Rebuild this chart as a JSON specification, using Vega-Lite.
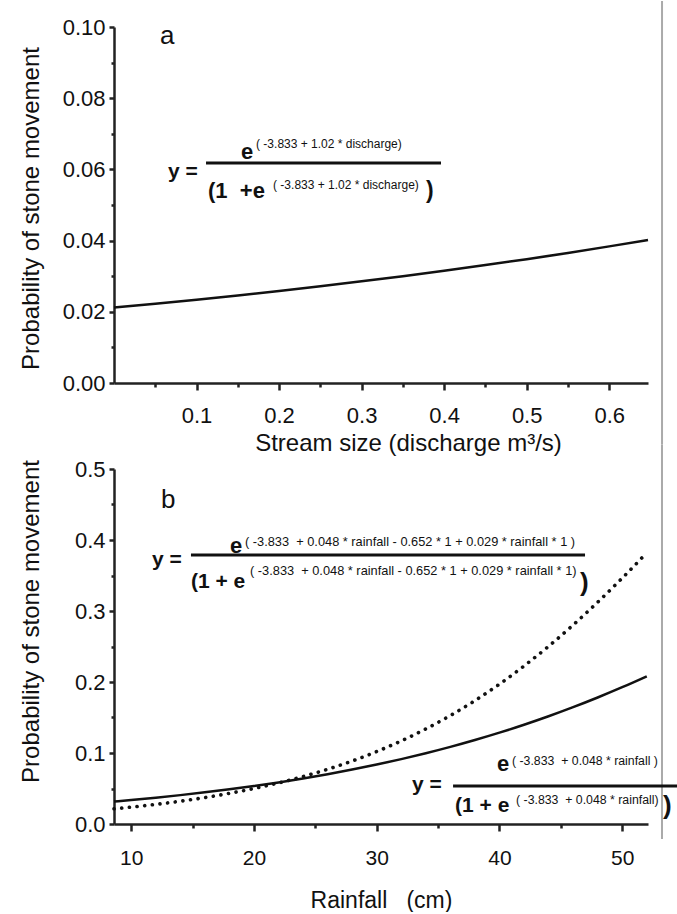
{
  "$schema": "https://vega.github.io/schema/vega-lite/v6.json",
  "padding": {"left": 18, "top": 0, "right": 0, "bottom": 0},
  "background": "white",
  "config": {
    "view": {"stroke": null},
    "font": "Liberation Sans",
    "axis": {"grid": false, "domainColor": "#222", "domainWidth": 2.5, "tickColor": "#222", "tickWidth": 2.5, "labelFont": "Liberation Sans", "labelFontSize": 22, "labelColor": "#111", "titleFont": "Liberation Sans", "titleFontSize": 24, "titleFontWeight": "normal", "titleColor": "#111", "labelOverlap": false}
  },
  "datasets": {
    "discharge": [
      {"discharge": 0, "p": 0.02119}, {"discharge": 0.05, "p": 0.02227}, {"discharge": 0.1, "p": 0.02341},
      {"discharge": 0.15, "p": 0.0246}, {"discharge": 0.2, "p": 0.02586}, {"discharge": 0.25, "p": 0.02717},
      {"discharge": 0.3, "p": 0.02855}, {"discharge": 0.35, "p": 0.03}, {"discharge": 0.4, "p": 0.03152},
      {"discharge": 0.45, "p": 0.03312}, {"discharge": 0.5, "p": 0.03479}, {"discharge": 0.55, "p": 0.03654},
      {"discharge": 0.6, "p": 0.03838}, {"discharge": 0.647, "p": 0.04019}
    ],
    "rainfall": [
      {"rainfall": 8.6, "p": 0.03167, "model": "main"}, {"rainfall": 10, "p": 0.0338, "model": "main"},
      {"rainfall": 12, "p": 0.03708, "model": "main"}, {"rainfall": 14, "p": 0.04066, "model": "main"},
      {"rainfall": 16, "p": 0.04457, "model": "main"}, {"rainfall": 18, "p": 0.04885, "model": "main"},
      {"rainfall": 20, "p": 0.05351, "model": "main"}, {"rainfall": 22, "p": 0.05858, "model": "main"},
      {"rainfall": 24, "p": 0.06411, "model": "main"}, {"rainfall": 26, "p": 0.07011, "model": "main"},
      {"rainfall": 28, "p": 0.07664, "model": "main"}, {"rainfall": 30, "p": 0.08371, "model": "main"},
      {"rainfall": 32, "p": 0.09137, "model": "main"}, {"rainfall": 34, "p": 0.09967, "model": "main"},
      {"rainfall": 36, "p": 0.10862, "model": "main"}, {"rainfall": 38, "p": 0.11827, "model": "main"},
      {"rainfall": 40, "p": 0.12865, "model": "main"}, {"rainfall": 42, "p": 0.1398, "model": "main"},
      {"rainfall": 44, "p": 0.15175, "model": "main"}, {"rainfall": 46, "p": 0.16452, "model": "main"},
      {"rainfall": 48, "p": 0.17814, "model": "main"}, {"rainfall": 50, "p": 0.19264, "model": "main"},
      {"rainfall": 52, "p": 0.20801, "model": "main"},
      {"rainfall": 8.6, "p": 0.0214, "model": "interaction"}, {"rainfall": 10, "p": 0.02378, "model": "interaction"},
      {"rainfall": 12, "p": 0.02763, "model": "interaction"}, {"rainfall": 14, "p": 0.03208, "model": "interaction"},
      {"rainfall": 16, "p": 0.03722, "model": "interaction"}, {"rainfall": 18, "p": 0.04315, "model": "interaction"},
      {"rainfall": 20, "p": 0.04997, "model": "interaction"}, {"rainfall": 22, "p": 0.05781, "model": "interaction"},
      {"rainfall": 24, "p": 0.0668, "model": "interaction"}, {"rainfall": 26, "p": 0.07706, "model": "interaction"},
      {"rainfall": 28, "p": 0.08875, "model": "interaction"}, {"rainfall": 30, "p": 0.10202, "model": "interaction"},
      {"rainfall": 32, "p": 0.11702, "model": "interaction"}, {"rainfall": 34, "p": 0.13389, "model": "interaction"},
      {"rainfall": 36, "p": 0.15277, "model": "interaction"}, {"rainfall": 38, "p": 0.17379, "model": "interaction"},
      {"rainfall": 40, "p": 0.19702, "model": "interaction"}, {"rainfall": 42, "p": 0.22253, "model": "interaction"},
      {"rainfall": 44, "p": 0.25029, "model": "interaction"}, {"rainfall": 46, "p": 0.2803, "model": "interaction"},
      {"rainfall": 48, "p": 0.31243, "model": "interaction"}, {"rainfall": 50, "p": 0.34638, "model": "interaction"},
      {"rainfall": 52, "p": 0.38201, "model": "interaction"}
    ]
  },
  "bounds": "flush",
  "spacing": 86,
  "vconcat": [
    {
      "width": 534,
      "height": 356,
      "data": {"values": [{}]},
      "resolve": {"axis": {"x": "independent", "y": "independent"}},
      "layer": [
        {
          "data": {"name": "discharge"},
          "mark": {"type": "line", "color": "#111", "strokeWidth": 2.5, "interpolate": "monotone"},
          "encoding": {
            "x": {"field": "discharge", "type": "quantitative", "scale": {"domain": [0, 0.647], "nice": false, "zero": false},
              "axis": {"orient": "bottom", "values": [0.1, 0.2, 0.3, 0.4, 0.5, 0.6], "format": ".1f", "tickSize": 7,
                "labelPadding": 15,
                "title": "Stream size (discharge m³/s)", "titleX": 294, "titleY": 67, "titleBaseline": "alphabetic", "titleAlign": "center"}},
            "y": {"field": "p", "type": "quantitative", "scale": {"domain": [0, 0.1], "nice": false, "zero": false},
              "axis": {"orient": "left", "values": [0, 0.02, 0.04, 0.06, 0.08, 0.1], "format": ".2f", "tickSize": 5,
                "labelPadding": 4,
                "title": "Probability of stone movement", "titleX": -76, "titleY": 181, "titleBaseline": "alphabetic", "titleAlign": "center", "titleAngle": -90}}
          }
        },
        {
          "data": {"name": "discharge"},
          "mark": {"type": "line", "strokeOpacity": 0},
          "encoding": {
            "x": {"field": "discharge", "type": "quantitative", "scale": {"domain": [0, 0.647], "nice": false, "zero": false},
              "axis": {"orient": "bottom", "values": [0.05, 0.15, 0.25, 0.35, 0.45, 0.55], "labels": false, "domain": false, "tickSize": 4, "title": null}},
            "y": {"field": "p", "type": "quantitative", "scale": {"domain": [0, 0.1], "nice": false, "zero": false},
              "axis": {"orient": "left", "values": [0.01, 0.03, 0.05, 0.07, 0.09], "labels": false, "domain": false, "tickSize": 3, "title": null}}
          }
        },
        {
          "mark": {"type": "rule", "color": "#aaa", "strokeWidth": 2},
          "encoding": {
            "x": {"datum": 0.664, "type": "quantitative", "scale": {"domain": [0, 0.647], "nice": false, "zero": false}, "axis": null},
            "y": {"datum": 0.1073, "type": "quantitative", "scale": {"domain": [0, 0.1], "nice": false, "zero": false}, "axis": null},
            "y2": {"datum": -0.0171}
          }
        },
        {
          "mark": {"type": "text", "text": "a", "fontSize": 26, "align": "left", "baseline": "alphabetic", "color": "#111"},
          "encoding": {
            "x": {"datum": 0.0557, "type": "quantitative", "scale": {"domain": [0, 0.647], "nice": false, "zero": false}, "axis": null},
            "y": {"datum": 0.0952, "type": "quantitative", "scale": {"domain": [0, 0.1], "nice": false, "zero": false}, "axis": null}
          }
        },
        {
          "mark": {"type": "text", "text": "y =", "fontSize": 21, "fontWeight": "bold", "align": "left", "baseline": "alphabetic", "color": "#111"},
          "encoding": {
            "x": {"datum": 0.0654, "type": "quantitative", "scale": {"domain": [0, 0.647], "nice": false, "zero": false}, "axis": null},
            "y": {"datum": 0.0576, "type": "quantitative", "scale": {"domain": [0, 0.1], "nice": false, "zero": false}, "axis": null}
          }
        },
        {
          "mark": {"type": "rule", "color": "#111", "strokeWidth": 3},
          "encoding": {
            "x": {"datum": 0.1115, "type": "quantitative", "scale": {"domain": [0, 0.647], "nice": false, "zero": false}, "axis": null},
            "x2": {"datum": 0.3962},
            "y": {"datum": 0.0618, "type": "quantitative", "scale": {"domain": [0, 0.1], "nice": false, "zero": false}, "axis": null}
          }
        },
        {
          "mark": {"type": "text", "text": "e", "fontSize": 22, "fontWeight": "bold", "align": "left", "baseline": "alphabetic", "color": "#111"},
          "encoding": {
            "x": {"datum": 0.1539, "type": "quantitative", "scale": {"domain": [0, 0.647], "nice": false, "zero": false}, "axis": null},
            "y": {"datum": 0.0629, "type": "quantitative", "scale": {"domain": [0, 0.1], "nice": false, "zero": false}, "axis": null}
          }
        },
        {
          "mark": {"type": "text", "text": "( -3.833 + 1.02 * discharge)", "fontSize": 12, "align": "left", "baseline": "alphabetic", "color": "#111"},
          "encoding": {
            "x": {"datum": 0.1721, "type": "quantitative", "scale": {"domain": [0, 0.647], "nice": false, "zero": false}, "axis": null},
            "y": {"datum": 0.066, "type": "quantitative", "scale": {"domain": [0, 0.1], "nice": false, "zero": false}, "axis": null}
          }
        },
        {
          "mark": {"type": "text", "text": "(1\u00a0\u00a0+e", "fontSize": 22, "fontWeight": "bold", "align": "left", "baseline": "alphabetic", "color": "#111"},
          "encoding": {
            "x": {"datum": 0.1139, "type": "quantitative", "scale": {"domain": [0, 0.647], "nice": false, "zero": false}, "axis": null},
            "y": {"datum": 0.052, "type": "quantitative", "scale": {"domain": [0, 0.1], "nice": false, "zero": false}, "axis": null}
          }
        },
        {
          "mark": {"type": "text", "text": "( -3.833 + 1.02 * discharge)", "fontSize": 12, "align": "left", "baseline": "alphabetic", "color": "#111"},
          "encoding": {
            "x": {"datum": 0.1927, "type": "quantitative", "scale": {"domain": [0, 0.647], "nice": false, "zero": false}, "axis": null},
            "y": {"datum": 0.0545, "type": "quantitative", "scale": {"domain": [0, 0.1], "nice": false, "zero": false}, "axis": null}
          }
        },
        {
          "mark": {"type": "text", "text": ")", "fontSize": 23, "fontWeight": "bold", "align": "left", "baseline": "alphabetic", "color": "#111"},
          "encoding": {
            "x": {"datum": 0.378, "type": "quantitative", "scale": {"domain": [0, 0.647], "nice": false, "zero": false}, "axis": null},
            "y": {"datum": 0.052, "type": "quantitative", "scale": {"domain": [0, 0.1], "nice": false, "zero": false}, "axis": null}
          }
        }
      ]
    },
    {
      "width": 534,
      "height": 355,
      "data": {"values": [{}]},
      "resolve": {"axis": {"x": "independent", "y": "independent"}},
      "layer": [
        {
          "data": {"name": "rainfall"},
          "transform": [{"filter": "datum.model == 'main'"}],
          "mark": {"type": "line", "color": "#111", "strokeWidth": 2.5, "interpolate": "monotone"},
          "encoding": {
            "x": {"field": "rainfall", "type": "quantitative", "scale": {"domain": [8.6, 52.1], "nice": false, "zero": false},
              "axis": {"orient": "bottom", "values": [10, 20, 30, 40, 50], "format": "d", "tickSize": 7,
                "labelPadding": 16, "labelFontSize": 21,
                "title": "Rainfall\u00a0\u00a0\u00a0(cm)", "titleFontSize": 23, "titleY": 83, "titleBaseline": "alphabetic"}},
            "y": {"field": "p", "type": "quantitative", "scale": {"domain": [0, 0.5], "nice": false, "zero": false},
              "axis": {"orient": "left", "values": [0, 0.1, 0.2, 0.3, 0.4, 0.5], "format": ".1f", "tickSize": 5,
                "labelPadding": 4,
                "title": "Probability of stone movement", "titleX": -76, "titleY": 152, "titleBaseline": "alphabetic", "titleAlign": "center", "titleAngle": -90}}
          }
        },
        {
          "data": {"name": "rainfall"},
          "transform": [{"filter": "datum.model == 'interaction'"}],
          "mark": {"type": "line", "color": "#111", "strokeWidth": 3.6, "strokeCap": "round", "strokeDash": [0.1, 7.6], "interpolate": "monotone"},
          "encoding": {
            "x": {"field": "rainfall", "type": "quantitative", "scale": {"domain": [8.6, 52.1], "nice": false, "zero": false},
              "axis": {"orient": "bottom", "values": [15, 25, 35, 45], "labels": false, "domain": false, "tickSize": 4, "title": null}},
            "y": {"field": "p", "type": "quantitative", "scale": {"domain": [0, 0.5], "nice": false, "zero": false},
              "axis": {"orient": "left", "values": [0.05, 0.15, 0.25, 0.35, 0.45], "labels": false, "domain": false, "tickSize": 3, "title": null}}
          }
        },
        {
          "mark": {"type": "rule", "color": "#aaa", "strokeWidth": 2},
          "encoding": {
            "x": {"datum": 53.24, "type": "quantitative", "scale": {"domain": [8.6, 52.1], "nice": false, "zero": false}, "axis": null},
            "y": {"datum": 0.535, "type": "quantitative", "scale": {"domain": [0, 0.5], "nice": false, "zero": false}, "axis": null},
            "y2": {"datum": -0.0211}
          }
        },
        {
          "mark": {"type": "text", "text": "b", "fontSize": 26, "align": "left", "baseline": "alphabetic", "color": "#111"},
          "encoding": {
            "x": {"datum": 12.43, "type": "quantitative", "scale": {"domain": [8.6, 52.1], "nice": false, "zero": false}, "axis": null},
            "y": {"datum": 0.445, "type": "quantitative", "scale": {"domain": [0, 0.5], "nice": false, "zero": false}, "axis": null}
          }
        },
        {
          "mark": {"type": "text", "text": "y =", "fontSize": 21, "fontWeight": "bold", "align": "left", "baseline": "alphabetic", "color": "#111"},
          "encoding": {
            "x": {"datum": 11.7, "type": "quantitative", "scale": {"domain": [8.6, 52.1], "nice": false, "zero": false}, "axis": null},
            "y": {"datum": 0.3634, "type": "quantitative", "scale": {"domain": [0, 0.5], "nice": false, "zero": false}, "axis": null}
          }
        },
        {
          "mark": {"type": "rule", "color": "#111", "strokeWidth": 3},
          "encoding": {
            "x": {"datum": 14.87, "type": "quantitative", "scale": {"domain": [8.6, 52.1], "nice": false, "zero": false}, "axis": null},
            "x2": {"datum": 46.97},
            "y": {"datum": 0.3789, "type": "quantitative", "scale": {"domain": [0, 0.5], "nice": false, "zero": false}, "axis": null}
          }
        },
        {
          "mark": {"type": "text", "text": "e", "fontSize": 22, "fontWeight": "bold", "align": "left", "baseline": "alphabetic", "color": "#111"},
          "encoding": {
            "x": {"datum": 18.05, "type": "quantitative", "scale": {"domain": [8.6, 52.1], "nice": false, "zero": false}, "axis": null},
            "y": {"datum": 0.3817, "type": "quantitative", "scale": {"domain": [0, 0.5], "nice": false, "zero": false}, "axis": null}
          }
        },
        {
          "mark": {"type": "text", "text": "( -3.833\u00a0\u00a0+ 0.048 * rainfall - 0.652 * 1 + 0.029 * rainfall * 1 )", "fontSize": 12.8, "align": "left", "baseline": "alphabetic", "color": "#111"},
          "encoding": {
            "x": {"datum": 19.27, "type": "quantitative", "scale": {"domain": [8.6, 52.1], "nice": false, "zero": false}, "axis": null},
            "y": {"datum": 0.3915, "type": "quantitative", "scale": {"domain": [0, 0.5], "nice": false, "zero": false}, "axis": null}
          }
        },
        {
          "mark": {"type": "text", "text": "(1 + e", "fontSize": 21, "fontWeight": "bold", "align": "left", "baseline": "alphabetic", "color": "#111"},
          "encoding": {
            "x": {"datum": 14.87, "type": "quantitative", "scale": {"domain": [8.6, 52.1], "nice": false, "zero": false}, "axis": null},
            "y": {"datum": 0.3324, "type": "quantitative", "scale": {"domain": [0, 0.5], "nice": false, "zero": false}, "axis": null}
          }
        },
        {
          "mark": {"type": "text", "text": "( -3.833\u00a0\u00a0+ 0.048 * rainfall - 0.652 * 1 + 0.029 * rainfall * 1)", "fontSize": 12.8, "align": "left", "baseline": "alphabetic", "color": "#111"},
          "encoding": {
            "x": {"datum": 19.68, "type": "quantitative", "scale": {"domain": [8.6, 52.1], "nice": false, "zero": false}, "axis": null},
            "y": {"datum": 0.3507, "type": "quantitative", "scale": {"domain": [0, 0.5], "nice": false, "zero": false}, "axis": null}
          }
        },
        {
          "mark": {"type": "text", "text": ")", "fontSize": 26, "fontWeight": "bold", "align": "left", "baseline": "alphabetic", "color": "#111"},
          "encoding": {
            "x": {"datum": 46.56, "type": "quantitative", "scale": {"domain": [8.6, 52.1], "nice": false, "zero": false}, "axis": null},
            "y": {"datum": 0.328, "type": "quantitative", "scale": {"domain": [0, 0.5], "nice": false, "zero": false}, "axis": null}
          }
        },
        {
          "mark": {"type": "text", "text": "e", "fontSize": 22, "fontWeight": "bold", "align": "left", "baseline": "alphabetic", "color": "#111"},
          "encoding": {
            "x": {"datum": 39.8, "type": "quantitative", "scale": {"domain": [8.6, 52.1], "nice": false, "zero": false}, "axis": null},
            "y": {"datum": 0.0746, "type": "quantitative", "scale": {"domain": [0, 0.5], "nice": false, "zero": false}, "axis": null}
          }
        },
        {
          "mark": {"type": "text", "text": "( -3.833\u00a0\u00a0+ 0.048 * rainfall )", "fontSize": 12.3, "align": "left", "baseline": "alphabetic", "color": "#111"},
          "encoding": {
            "x": {"datum": 41.02, "type": "quantitative", "scale": {"domain": [8.6, 52.1], "nice": false, "zero": false}, "axis": null},
            "y": {"datum": 0.0831, "type": "quantitative", "scale": {"domain": [0, 0.5], "nice": false, "zero": false}, "axis": null}
          }
        },
        {
          "mark": {"type": "text", "text": "y =", "fontSize": 21, "fontWeight": "bold", "align": "left", "baseline": "alphabetic", "color": "#111"},
          "encoding": {
            "x": {"datum": 32.88, "type": "quantitative", "scale": {"domain": [8.6, 52.1], "nice": false, "zero": false}, "axis": null},
            "y": {"datum": 0.0465, "type": "quantitative", "scale": {"domain": [0, 0.5], "nice": false, "zero": false}, "axis": null}
          }
        },
        {
          "mark": {"type": "rule", "color": "#111", "strokeWidth": 3},
          "encoding": {
            "x": {"datum": 36.22, "type": "quantitative", "scale": {"domain": [8.6, 52.1], "nice": false, "zero": false}, "axis": null},
            "x2": {"datum": 54.71},
            "y": {"datum": 0.0535, "type": "quantitative", "scale": {"domain": [0, 0.5], "nice": false, "zero": false}, "axis": null}
          }
        },
        {
          "mark": {"type": "text", "text": "(1 + e", "fontSize": 21, "fontWeight": "bold", "align": "left", "baseline": "alphabetic", "color": "#111"},
          "encoding": {
            "x": {"datum": 36.38, "type": "quantitative", "scale": {"domain": [8.6, 52.1], "nice": false, "zero": false}, "axis": null},
            "y": {"datum": 0.0169, "type": "quantitative", "scale": {"domain": [0, 0.5], "nice": false, "zero": false}, "axis": null}
          }
        },
        {
          "mark": {"type": "text", "text": "( -3.833\u00a0\u00a0+ 0.048 * rainfall)", "fontSize": 12.3, "align": "left", "baseline": "alphabetic", "color": "#111"},
          "encoding": {
            "x": {"datum": 41.35, "type": "quantitative", "scale": {"domain": [8.6, 52.1], "nice": false, "zero": false}, "axis": null},
            "y": {"datum": 0.0282, "type": "quantitative", "scale": {"domain": [0, 0.5], "nice": false, "zero": false}, "axis": null}
          }
        },
        {
          "mark": {"type": "text", "text": ")", "fontSize": 26, "fontWeight": "bold", "align": "left", "baseline": "alphabetic", "color": "#111"},
          "encoding": {
            "x": {"datum": 53.32, "type": "quantitative", "scale": {"domain": [8.6, 52.1], "nice": false, "zero": false}, "axis": null},
            "y": {"datum": 0.0141, "type": "quantitative", "scale": {"domain": [0, 0.5], "nice": false, "zero": false}, "axis": null}
          }
        }
      ]
    }
  ]
}
